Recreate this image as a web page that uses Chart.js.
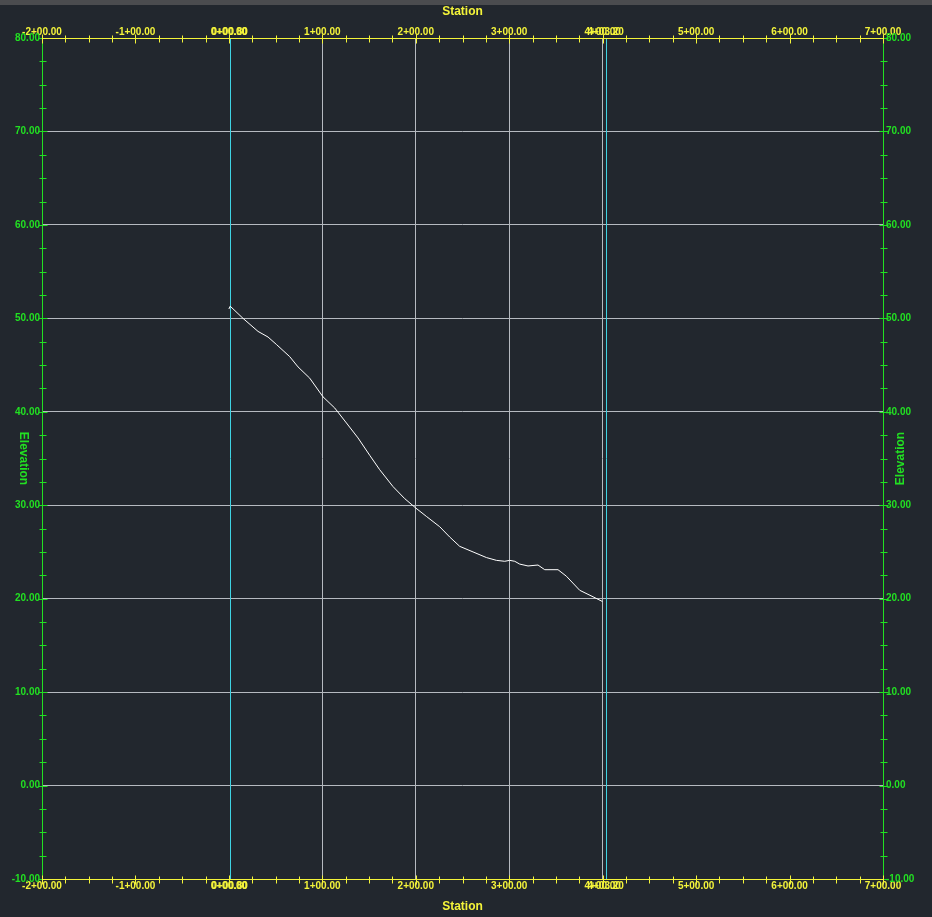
<!DOCTYPE html>
<html>
<head>
<meta charset="utf-8">
<script src="https://cdn.jsdelivr.net/npm/chart.js@4/dist/chart.umd.min.js"></script>
<style>
html,body{margin:0;padding:0;background:#22272e;}
#wrap{width:932px;height:917px;}
</style>
</head>
<body>
<div id="wrap"><canvas id="c" width="932" height="917"></canvas></div>
<script>
// ---- data ----
const stations = [0, 1.4, 15.1, 31.2, 41.9, 50.9, 65.1, 74.0, 86.5, 100.7, 113.3, 125.8, 138.2, 151.0, 161.4, 175.6, 188.2, 200.0, 211.4, 225.6, 236.3, 247.0, 261.3, 275.6, 286.3, 295.2, 300.5, 305.9, 311.2, 320.1, 330.8, 338.0, 352.2, 361.2, 375.4, 389.7, 399.7];
const elevations = [51.0, 51.3, 50.0, 48.6, 48.0, 47.2, 45.9, 44.8, 43.6, 41.6, 40.4, 38.8, 37.2, 35.3, 33.8, 32.0, 30.7, 29.7, 28.8, 27.7, 26.6, 25.6, 25.0, 24.4, 24.1, 24.0, 24.1, 24.0, 23.7, 23.5, 23.6, 23.1, 23.1, 22.4, 20.9, 20.2, 19.7];
const alignmentStations = [0.8, 403.2];
const stationRange = [-200, 700];
const elevationRange = [-10, 80];
const stationGridValues = [100, 200, 300, 400];
const elevationGridValues = [0, 10, 20, 30, 40, 50, 60, 70];
const xTitle = 'Station';
const yTitle = 'Elevation';

// ---- styles ----
const BG = '#22272e';
const YELLOW = '#f4f43a';
const GREEN = '#22e022';
const GRID = '#b6bac0';
const CYAN = '#3fd3e3';
const FONT = '"Liberation Sans", Arial, sans-serif';

function fmtSta(v){
  const sign = v < 0 ? '-' : '';
  const a = Math.abs(v);
  const h = Math.floor(a / 100 + 1e-9);
  const r = a - h * 100;
  return sign + h + '+' + (r < 10 ? '0' : '') + r.toFixed(2);
}
function isMult(v, m){ return Math.abs(v / m - Math.round(v / m)) < 1e-9; }

const cadPlugin = {
  id: 'cad',
  beforeDraw(chart){
    const ctx = chart.ctx;
    ctx.save();
    ctx.fillStyle = BG;
    ctx.fillRect(0, 0, chart.width, chart.height);
    ctx.fillStyle = '#4b4c4f';
    ctx.fillRect(0, 0, chart.width, 5);
    ctx.restore();
  },
  beforeDatasetsDraw(chart){
    const ctx = chart.ctx, a = chart.chartArea, xs = chart.scales.x;
    ctx.save();
    ctx.strokeStyle = CYAN;
    ctx.lineWidth = 1;
    alignmentStations.forEach(s => {
      const px = Math.round(xs.getPixelForValue(s)) + 0.5;
      ctx.beginPath();
      ctx.moveTo(px, a.top);
      ctx.lineTo(px, a.bottom);
      ctx.stroke();
    });
    ctx.restore();
  },
  afterDraw(chart){
    const ctx = chart.ctx, a = chart.chartArea;
    const xs = chart.scales.x, ys = chart.scales.y;
    const L = Math.round(a.left) + 0.5, R = Math.round(a.right) + 0.5;
    const T = Math.round(a.top) + 0.5, B = Math.round(a.bottom) + 0.5;
    ctx.save();
    ctx.lineWidth = 1;
    // vertical axes (green)
    ctx.strokeStyle = GREEN;
    ctx.beginPath();
    ctx.moveTo(L, T); ctx.lineTo(L, B);
    ctx.moveTo(R, T); ctx.lineTo(R, B);
    ys.ticks.forEach(t => {
      const py = Math.round(ys.getPixelForValue(t.value)) + 0.5;
      const len = isMult(t.value, 10) ? 4 : 3;
      ctx.moveTo(L - len, py); ctx.lineTo(L + len + 1, py);
      ctx.moveTo(R - len, py); ctx.lineTo(R + len + 1, py);
    });
    ctx.stroke();
    // horizontal axes (yellow)
    ctx.strokeStyle = YELLOW;
    ctx.beginPath();
    ctx.moveTo(L - 0.5, T); ctx.lineTo(R + 0.5, T);
    ctx.moveTo(L - 0.5, B); ctx.lineTo(R + 0.5, B);
    xs.ticks.forEach(t => {
      const px = Math.round(xs.getPixelForValue(t.value)) + 0.5;
      const len = isMult(t.value, 100) ? 4 : 3;
      ctx.moveTo(px, T - len); ctx.lineTo(px, T + len + 1);
      ctx.moveTo(px, B - len); ctx.lineTo(px, B + len + 1);
    });
    ctx.stroke();
    // alignment station labels (overlaid, as in the reference)
    ctx.fillStyle = YELLOW;
    ctx.font = 'bold 10px ' + FONT;
    ctx.textAlign = 'center';
    ctx.textBaseline = 'middle';
    alignmentStations.forEach(s => {
      const px = xs.getPixelForValue(s);
      ctx.fillText(fmtSta(s), px, a.top - 6);
      ctx.fillText(fmtSta(s), px, a.bottom + 7);
    });
    // elevation titles
    ctx.fillStyle = GREEN;
    ctx.font = 'bold 12px ' + FONT;
    const cy = (a.top + a.bottom) / 2;
    ctx.save();
    ctx.translate(23, cy);
    ctx.rotate(Math.PI / 2);
    ctx.fillText(yTitle, 0, 0);
    ctx.restore();
    ctx.save();
    ctx.translate(901, cy);
    ctx.rotate(-Math.PI / 2);
    ctx.fillText(yTitle, 0, 0);
    ctx.restore();
    ctx.restore();
  }
};

const xTickCfg = {
  stepSize: 25, autoSkip: false, maxRotation: 0, minRotation: 0,
  color: YELLOW, font: { family: FONT, size: 10, weight: 'bold' },
  callback: v => isMult(v, 100) ? fmtSta(v) : ''
};
const yTickCfg = {
  stepSize: 2.5, autoSkip: false,
  color: GREEN, font: { family: FONT, size: 10, weight: 'bold' },
  callback: v => isMult(v, 10) ? v.toFixed(2) : ''
};

new Chart(document.getElementById('c'), {
  type: 'scatter',
  data: {
    datasets: [{
      data: stations.map((s, i) => ({ x: s, y: elevations[i] })),
      showLine: true,
      borderColor: '#ffffff',
      borderWidth: 1,
      pointRadius: 0,
      tension: 0,
      xAxisID: 'x',
      yAxisID: 'y'
    }]
  },
  options: {
    responsive: false,
    animation: false,
    layout: { padding: 0 },
    plugins: { legend: { display: false }, tooltip: { enabled: false } },
    scales: {
      x: {
        type: 'linear', position: 'bottom', min: stationRange[0], max: stationRange[1],
        ticks: Object.assign({ padding: 1 }, xTickCfg),
        grid: {
          drawTicks: false, lineWidth: 1,
          color: c => stationGridValues.includes(c.tick.value) ? GRID : 'rgba(0,0,0,0)'
        },
        border: { display: false },
        title: { display: true, text: xTitle, color: YELLOW, font: { family: FONT, size: 12, weight: 'bold' }, padding: { top: 0, bottom: 3 } },
        afterFit: s => { s.height = 38; }
      },
      x2: {
        type: 'linear', position: 'top', min: stationRange[0], max: stationRange[1],
        ticks: Object.assign({ padding: 0 }, xTickCfg),
        grid: { display: false, drawTicks: false },
        border: { display: false },
        title: { display: true, text: xTitle, color: YELLOW, font: { family: FONT, size: 12, weight: 'bold' }, padding: { top: 4, bottom: 0 } },
        afterFit: s => { s.height = 38; }
      },
      y: {
        type: 'linear', position: 'left', min: elevationRange[0], max: elevationRange[1],
        ticks: Object.assign({ padding: 2 }, yTickCfg),
        grid: {
          drawTicks: false, lineWidth: 1,
          color: c => elevationGridValues.includes(c.tick.value) ? GRID : 'rgba(0,0,0,0)'
        },
        border: { display: false },
        afterFit: s => { s.width = 42; }
      },
      y2: {
        type: 'linear', position: 'right', min: elevationRange[0], max: elevationRange[1],
        ticks: Object.assign({ padding: 3 }, yTickCfg),
        grid: { display: false, drawTicks: false },
        border: { display: false },
        afterFit: s => { s.width = 49; }
      }
    }
  },
  plugins: [cadPlugin]
});
</script>
</body>
</html>
